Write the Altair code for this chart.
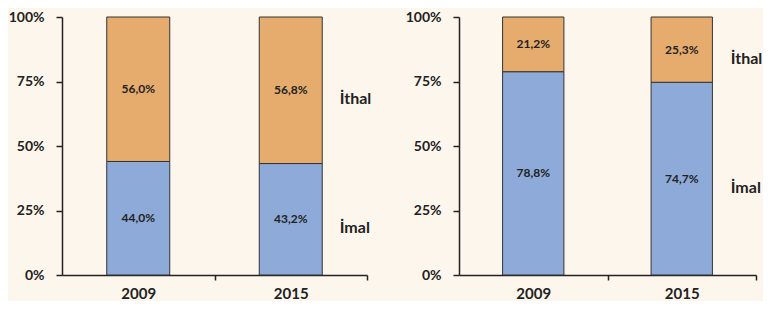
import altair as alt
import pandas as pd

years = ["2009", "2015"]
series = ["İmal", "İthal"]
imal_left = [44.0, 43.2]
ithal_left = [56.0, 56.8]
imal_right = [78.8, 74.7]
ithal_right = [21.2, 25.3]
y_ticks = [0, 25, 50, 75, 100]

BG = "#fdf6ec"
INK = "#222222"
FONT = "Lato"


def make_df(imal, ithal):
    rows = []
    for i, yr in enumerate(years):
        rows.append(dict(year=yr, series="İmal", start=0.0, end=imal[i],
                         label=f"{imal[i]:.1f}%".replace(".", ",")))
        rows.append(dict(year=yr, series="İthal", start=imal[i], end=imal[i] + ithal[i],
                         label=f"{ithal[i]:.1f}%".replace(".", ",")))
    df = pd.DataFrame(rows)
    df["mid"] = (df["start"] + df["end"]) / 2
    return df


def panel(imal, ithal, width):
    df = make_df(imal, ithal)
    step = width / 2
    x = alt.X("year:N", sort=years,
              scale=alt.Scale(paddingInner=0.587, paddingOuter=0.2935),
              axis=alt.Axis(title=None, labelAngle=0, tickOffset=step / 2, labelOffset=-step / 2,
                            tickSize=5, domainColor=INK, tickColor=INK, domainWidth=1.5,
                            tickWidth=1.5, labelFont=FONT, labelFontSize=15,
                            labelFontWeight="bold", labelColor=INK, labelPadding=6))
    yscale = alt.Scale(domain=[0, 100], nice=False)
    bars = alt.Chart(df).mark_bar(stroke="#333333", strokeWidth=1).encode(
        x=x,
        y=alt.Y("start:Q", scale=yscale,
                axis=alt.Axis(title=None, values=y_ticks, labelExpr="datum.value + '%'",
                              grid=False, domainColor=INK, tickColor=INK, tickSize=6,
                              domainWidth=1.5, tickWidth=1.5, labelFont=FONT,
                              labelFontSize=14, labelFontWeight="bold", labelColor=INK,
                              labelPadding=12)),
        y2="end:Q",
        color=alt.Color("series:N", scale=alt.Scale(domain=series, range=["#8eaad8", "#e5ac6e"]),
                        legend=None),
    )
    labels = alt.Chart(df).mark_text(font=FONT, fontSize=12, fontWeight="bold", color=INK).encode(
        x=alt.X("year:N", sort=years), y=alt.Y("mid:Q", scale=yscale), text="label:N")
    last = df[df["year"] == years[-1]]
    names = alt.Chart(last).mark_text(font=FONT, fontSize=16, fontWeight="bold", color=INK,
                                      align="left", dx=49, dy=9).encode(
        x=alt.X("year:N", sort=years), y=alt.Y("mid:Q", scale=yscale), text="series:N")
    return alt.layer(bars, labels, names).properties(width=width, height=258)


chart = alt.hconcat(panel(imal_left, ithal_left, 305), panel(imal_right, ithal_right, 297),
                    spacing=33).properties(
    padding={"top": 2, "left": 0, "right": 0, "bottom": 0}).configure(
    background=BG).configure_view(stroke=None)

chart.save("out.html", embed_options={"renderer": "svg", "actions": False})
